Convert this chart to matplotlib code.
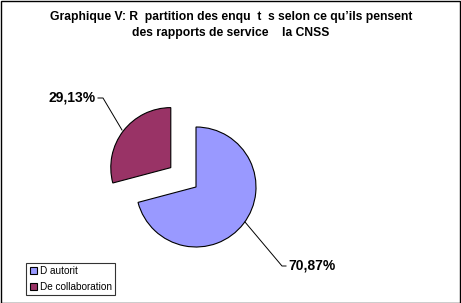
import matplotlib.pyplot as plt
from matplotlib.patches import Rectangle

plt.rcParams['font.family'] = ['Liberation Sans', 'DejaVu Sans']

# data
labels = ['D autorit', 'De collaboration']
values = [70.87, 29.13]
pct_labels = ['70,87%', '29,13%']
colors = ['#9999FF', '#993366']
explode = [0, 0.53]

W, H = 461, 303
fig = plt.figure(figsize=(W / 100, H / 100), dpi=100)

# pie centred at pixel (196, 187), radius 60 px -> 1 data unit = 60 px
cx, cy, r = 196, 187, 60
size = 3 * r
ax = fig.add_axes([(cx - size / 2) / W, (H - cy - size / 2) / H, size / W, size / H])

wedges, _ = ax.pie(values, colors=colors, explode=explode, startangle=90,
                   counterclock=False, radius=1,
                   wedgeprops=dict(edgecolor='black', linewidth=0.8))
ax.set_xlim(-1.5, 1.5)
ax.set_ylim(-1.5, 1.5)
ax.set_aspect('equal')
ax.axis('off')


def px(x, y):
    return (x - cx) / r, (cy - y) / r


# leader lines and percentage labels
for pts, txt, ha in [
    ([(245, 222), (282, 266), (286, 266)], pct_labels[0], 'left'),
    ([(122, 130), (103, 98), (98, 98)], pct_labels[1], 'right'),
]:
    xs, ys = zip(*[px(a, b) for a, b in pts])
    ax.plot(xs, ys, color='black', linewidth=0.7, clip_on=False)
    tx, ty = px(pts[-1][0] + (2 if ha == 'left' else -2), pts[-1][1])
    ax.text(tx, ty, txt, ha=ha, va='center', fontsize=10, fontweight='bold')

fig.text(231 / W, 1 - 11 / H,
         "Graphique V: R  partition des enqu  t  s selon ce qu\u2019ils pensent\n"
         "des rapports de service    la CNSS",
         ha='center', va='top', fontsize=8.7, fontweight='bold', linespacing=1.4)

leg = fig.legend(wedges, labels, loc='lower left',
                 bbox_to_anchor=(26 / W, 1 - 295 / H), fontsize=7.2,
                 frameon=True, fancybox=False, edgecolor='black',
                 handlelength=0.7, handleheight=0.7, handletextpad=0.3,
                 borderpad=0.35, labelspacing=0.55, borderaxespad=0)
leg.get_frame().set_linewidth(0.8)

fig.patches.append(Rectangle((0.5 / W, 0.5 / H), 1 - 1.5 / W, 1 - 1.5 / H,
                             transform=fig.transFigure, fill=False,
                             edgecolor='black', linewidth=1))

fig.savefig('out.png', dpi=100)
